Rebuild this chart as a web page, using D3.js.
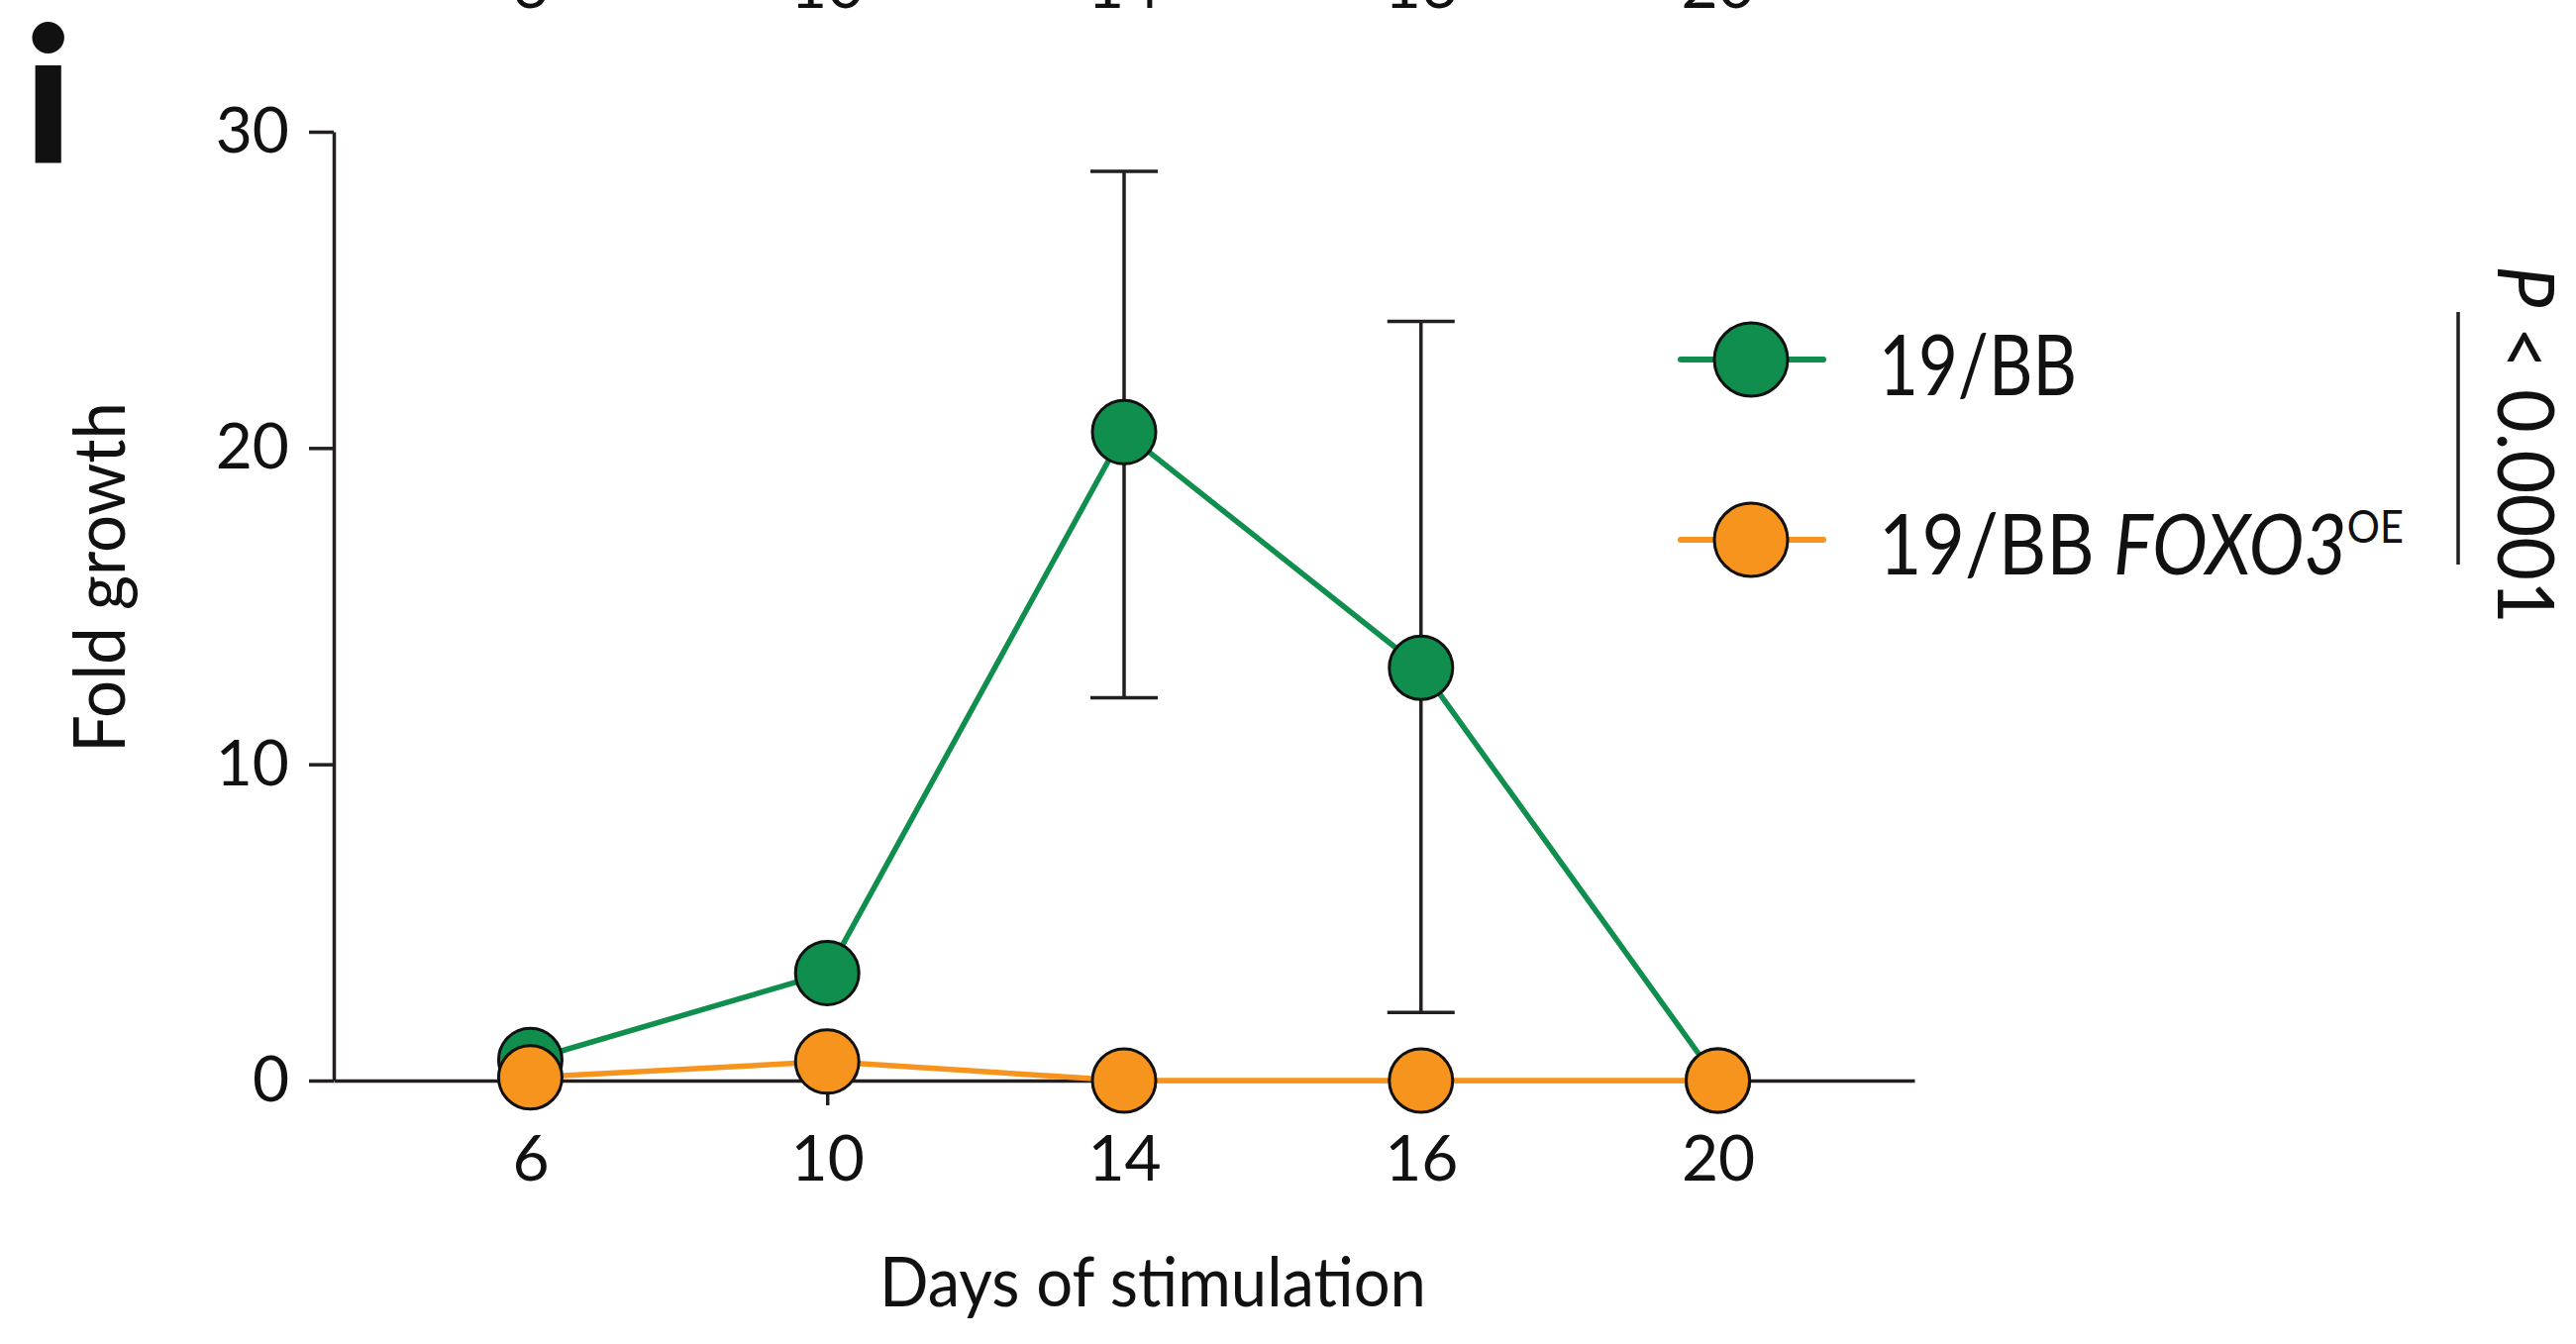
<!DOCTYPE html>
<html>
<head>
<meta charset="utf-8">
<script src="https://cdn.jsdelivr.net/npm/d3@7"></script>
<style>
  html, body { margin: 0; padding: 0; background: #fff; }
  svg { display: block; }
  text { font-family: Lato, "Noto Sans", sans-serif; fill: #111; }
</style>
</head>
<body>
<svg id="chart" width="2601" height="1357"></svg>
<script>
// ---- data ----
const days = ["6", "10", "14", "16", "20"];
const greenValues = [0.65, 3.4, 20.5, 13.05, 0];
const greenErrLow = [null, null, 12.1, 2.15, null];
const greenErrHigh = [null, null, 28.75, 24.0, null];
const orangeValues = [0.1, 0.6, 0, 0, 0];
const yTicks = [0, 10, 20, 30];
const seriesNames = ["19/BB", "19/BB FOXO3OE"];
const pText = "P < 0.0001";

// ---- layout ----
const W = 2601, H = 1357;
const x0 = 337, x1 = 1933, yTop = 133, yBot = 1091;
const GREEN = "#108e4e", ORANGE = "#f7941d", INK = "#231f20";

const svg = d3.select("#chart");

const x = d3.scalePoint().domain(days).range([x0, x1]).padding(0.662);
const y = d3.scaleLinear().domain([0, 30]).range([yBot, yTop]);

function fitWidth(sel, target) {
  const node = sel.node();
  const w = node.getBBox().width;
  return target / w;
}

// panel letter
svg.append("text").attr("x", 24).attr("y", 164)
  .style("font-size", "190px").style("font-weight", 900).text("i");

// cut-off labels of panel above
svg.append("g").selectAll("text").data(days).join("text")
  .attr("x", d => x(d)).attr("y", 8).attr("text-anchor", "middle")
  .style("font-size", "64px").text(d => d);

// axes
const yAxis = svg.append("g").attr("transform", `translate(${x0},0)`)
  .call(d3.axisLeft(y).tickValues(yTicks).tickSize(25).tickSizeOuter(0).tickPadding(20));
const xAxis = svg.append("g").attr("transform", `translate(0,${yBot})`)
  .call(d3.axisBottom(x).tickSize(25).tickSizeOuter(0).tickPadding(31));
[yAxis, xAxis].forEach(g => {
  g.select(".domain").attr("stroke", INK).attr("stroke-width", 3.5);
  g.selectAll(".tick line").attr("stroke", INK).attr("stroke-width", 3.5);
  g.selectAll(".tick text").attr("fill", "#111").style("font-size", "64px")
    .style("font-family", "Lato, 'Noto Sans', sans-serif");
});

// axis titles
const xt = svg.append("text").attr("text-anchor", "middle")
  .style("font-size", "70px").text("Days of stimulation");
{
  const s = fitWidth(xt, 552);
  xt.attr("transform", `translate(1164,1319) scale(${s},1)`);
}
const yt = svg.append("text").attr("text-anchor", "middle")
  .style("font-size", "72px").text("Fold growth");
{
  const s = fitWidth(yt, 354);
  yt.attr("transform", `translate(126,583) rotate(-90) scale(${s},1)`);
}

// error bars
const errData = days.map((d, i) => ({ d, lo: greenErrLow[i], hi: greenErrHigh[i] }))
  .filter(e => e.lo !== null);
const eb = svg.append("g").attr("stroke", INK).attr("stroke-width", 3.5).attr("fill", "none");
errData.forEach(e => {
  eb.append("line").attr("x1", x(e.d)).attr("x2", x(e.d)).attr("y1", y(e.hi)).attr("y2", y(e.lo));
  eb.append("line").attr("x1", x(e.d) - 34).attr("x2", x(e.d) + 34).attr("y1", y(e.hi)).attr("y2", y(e.hi));
  eb.append("line").attr("x1", x(e.d) - 34).attr("x2", x(e.d) + 34).attr("y1", y(e.lo)).attr("y2", y(e.lo));
});

const line = d3.line().x(p => x(p[0])).y(p => y(p[1]));
function drawSeries(vals, color) {
  const pts = days.map((d, i) => [d, vals[i]]);
  svg.append("path").datum(pts).attr("d", line)
    .attr("fill", "none").attr("stroke", color).attr("stroke-width", 5.5);
  svg.append("g").selectAll("circle").data(pts).join("circle")
    .attr("cx", p => x(p[0])).attr("cy", p => y(p[1])).attr("r", 32)
    .attr("fill", color).attr("stroke", "#111").attr("stroke-width", 3);
}
drawSeries(greenValues, GREEN);
drawSeries(orangeValues, ORANGE);

// legend
const legend = [
  { color: GREEN, cy: 363, base: 399 },
  { color: ORANGE, cy: 545, base: 580 }
];
legend.forEach((l, i) => {
  svg.append("line").attr("x1", 1697).attr("x2", 1841).attr("y1", l.cy).attr("y2", l.cy)
    .attr("stroke", l.color).attr("stroke-width", 6).attr("stroke-linecap", "round");
  svg.append("circle").attr("cx", 1768).attr("cy", l.cy).attr("r", 37)
    .attr("fill", l.color).attr("stroke", "#111").attr("stroke-width", 3);
});
const lt1 = svg.append("text").style("font-size", "85px").text(seriesNames[0]);
lt1.attr("transform", `translate(1897,399) scale(${fitWidth(lt1, 200)},1)`);
const lt2 = svg.append("text").style("font-size", "85px");
lt2.append("tspan").text("19/BB ");
lt2.append("tspan").style("font-style", "italic").text("FOXO3");
lt2.append("tspan").attr("dy", -32).style("font-size", "47px").text("OE");
lt2.attr("transform", `translate(1897,580) scale(${fitWidth(lt2, 530)},1)`);

// significance bar
svg.append("line").attr("x1", 2482).attr("x2", 2482).attr("y1", 315).attr("y2", 570)
  .attr("stroke", INK).attr("stroke-width", 3.5);
const pt = svg.append("text").style("font-size", "80px");
pt.append("tspan").style("font-style", "italic").text("P");
pt.append("tspan").text(pText.slice(1));
pt.attr("transform", `translate(2522,268) rotate(90) scale(${fitWidth(pt, 362)},1)`);
</script>
</body>
</html>
